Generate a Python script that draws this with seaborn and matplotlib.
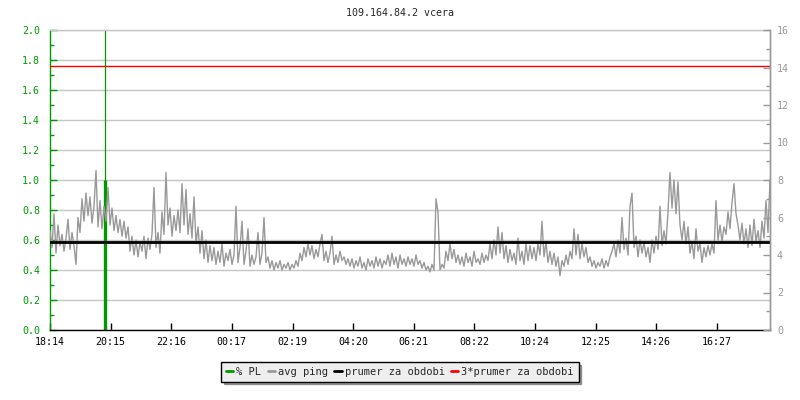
import matplotlib
matplotlib.use("Agg")
import matplotlib.pyplot as plt
import seaborn as sns
from matplotlib.ticker import MultipleLocator, FormatStrFormatter
from matplotlib.lines import Line2D

# ---------------- data ----------------
title = "109.164.84.2 vcera"
tick_labels = ["18:14", "20:15", "22:16", "00:17", "02:19", "04:20",
               "06:21", "08:22", "10:24", "12:25", "14:26", "16:27"]
start_label = "18:14"
sample_step_min = 4          # one sample every 4 minutes over 24 h

avg_ping = [
    5.3, 4.4, 6.2, 4.1, 5.6, 4.5, 5.1, 4.2, 4.9, 5.9,
    4.3, 5.2, 4.5, 3.5, 6.0, 5.2, 7.0, 5.8, 7.3, 6.1,
    7.1, 5.7, 6.6, 8.5, 5.5, 6.9, 5.4, 6.6, 5.8, 7.6,
    5.6, 6.5, 5.3, 6.1, 5.2, 5.9, 5.0, 5.8, 4.9, 5.5,
    4.2, 5.0, 4.0, 4.8, 3.9, 4.7, 4.2, 5.0, 3.8, 4.9,
    4.3, 5.1, 7.6, 4.4, 5.2, 4.1, 6.3, 5.1, 8.4, 5.6,
    6.5, 5.0, 6.1, 5.3, 6.4, 5.2, 7.8, 5.6, 7.5, 5.1,
    6.2, 4.9, 7.1, 4.6, 5.5, 4.1, 5.3, 3.8, 4.8, 3.6,
    4.5, 3.7, 4.4, 3.5, 4.2, 3.6, 4.6, 3.4, 4.1, 3.7,
    4.3, 3.5, 4.0, 6.6, 3.6, 4.4, 5.8, 3.5, 4.2, 5.4,
    3.4, 4.0, 3.5, 3.9, 5.2, 3.5, 4.1, 6.0, 3.6, 3.9,
    3.3, 3.7, 3.2, 3.6, 3.3, 3.7, 3.2, 3.5, 3.3, 3.6,
    3.2, 3.5, 3.3, 3.7, 3.4, 4.1, 3.7, 4.4, 3.9, 4.6,
    4.0, 4.5, 3.8, 4.3, 3.9, 4.6, 5.1, 3.7, 4.2, 3.6,
    4.1, 5.0, 3.5, 4.0, 3.6, 4.2, 3.7, 3.9, 3.5, 3.8,
    3.4, 3.8, 3.3, 3.7, 3.4, 3.9, 3.3, 3.6, 3.2, 3.8,
    3.4, 3.7, 3.3, 3.9, 3.4, 3.8, 3.3, 3.7, 3.5, 4.0,
    3.4, 4.1, 3.5, 3.9, 3.3, 4.0, 3.5, 3.8, 3.4, 3.9,
    3.5, 3.8, 3.4, 4.0, 3.5, 3.7, 3.3, 3.6, 3.2, 3.4,
    3.1, 3.5, 3.2, 7.0, 6.3, 3.2, 3.5, 3.3, 4.2, 3.7,
    4.6, 3.8, 4.3, 3.6, 4.0, 3.5, 3.9, 3.4, 4.1, 3.6,
    3.9, 3.4, 4.2, 3.6, 3.8, 3.5, 4.1, 3.6, 4.0, 3.7,
    4.6, 3.8, 4.8, 4.0, 5.5, 4.1, 5.2, 3.8, 4.5, 3.6,
    4.3, 3.7, 4.1, 3.5, 4.9, 3.7, 4.2, 3.5, 4.6, 3.7,
    4.5, 3.8, 4.4, 3.7, 4.6, 4.0, 5.8, 3.9, 4.7, 3.6,
    4.2, 3.5, 4.1, 3.4, 3.9, 2.9, 3.7, 3.4, 4.0, 3.5,
    4.2, 3.8, 5.4, 4.0, 5.1, 3.8, 4.6, 3.9, 4.4, 3.6,
    3.9, 3.4, 3.7, 3.3, 3.6, 3.4, 3.8, 3.3, 3.7, 3.4,
    3.9, 4.2, 4.6, 3.9, 4.8, 4.1, 6.0, 4.3, 4.9, 4.0,
    6.6, 7.3, 4.4, 5.0, 3.9, 4.8, 4.1, 4.7, 3.9, 4.4,
    3.6, 4.8, 4.1, 5.0, 4.3, 6.6, 4.5, 5.3, 4.6, 6.3,
    8.4, 6.5, 8.0, 6.2, 7.9, 5.6, 4.8, 5.8, 4.6, 5.5,
    4.1, 4.7, 3.8, 5.4, 4.2, 4.6, 3.6, 4.4, 3.9, 4.5,
    4.0, 4.6, 4.1, 6.9, 4.8, 5.6, 4.7, 5.5, 5.1, 6.3,
    5.4, 6.8, 7.8, 6.2, 5.6, 4.8, 5.7, 4.6, 5.4, 4.4,
    5.6, 4.5, 5.9, 4.7, 5.3, 4.4, 5.8, 4.9, 6.9, 5.2,
    8.0,
]
pl_minute = [110]            # packet-loss sample (minutes after start)
pl_value = [1.0]             # % PL
avg_mean = 4.69              # "prumer za obdobi" (ms)
legend_labels = ["% PL", "avg ping", "prumer za obdobi", "3*prumer za obdobi"]

# ---------------- derived positions ----------------
def to_min(lbl):
    h, m = map(int, lbl.split(":"))
    return h * 60 + m

t0 = to_min(start_label)
tick_pos = [(to_min(l) - t0) % 1440 for l in tick_labels]
times = [i * sample_step_min for i in range(len(avg_ping))]

# ---------------- style ----------------
sns.set_style("white")
plt.rcParams["font.family"] = ["DejaVu Sans Mono", "DejaVu Sans"]

GREEN = "#009900"
GRAY = "#999999"
GRID = "#c6c6c6"
FS = 7.2

fig = plt.figure(figsize=(8, 4), dpi=100)
ax = fig.add_axes([50 / 800, 70 / 400, 720 / 800, 300 / 400])
ax2 = ax.twinx()

ax.set_xlim(0, 1440)
ax.set_ylim(0, 2.0)
ax2.set_ylim(0, 16)

# left axis: % PL
ax.axvline(pl_minute[0], color=GREEN, lw=0.9)
ax.vlines(pl_minute, 0, pl_value, color=GREEN, lw=2.4)

# right axis: ping
sns.lineplot(x=times, y=avg_ping, ax=ax2, color=GRAY, lw=1)
ax2.axhline(avg_mean, color="black", lw=2)
ax2.axhline(3 * avg_mean, color="#ff0000", lw=1)
ax2.set_xlabel("")
ax2.set_ylabel("")

# grid
ax.yaxis.set_major_locator(MultipleLocator(0.2))
ax.yaxis.set_minor_locator(MultipleLocator(0.1))
ax.yaxis.set_major_formatter(FormatStrFormatter("%.1f"))
ax.grid(axis="y", which="major", color=GRID, lw=1)
ax.grid(axis="x", visible=False)
ax.set_axisbelow(True)

ax2.yaxis.set_major_locator(MultipleLocator(2))
ax2.yaxis.set_minor_locator(MultipleLocator(1))
ax2.grid(False)

ax.set_xticks(tick_pos)
ax.set_xticklabels(tick_labels)

ax.tick_params(axis="y", which="major", direction="in", length=5, width=1,
               color=GREEN, labelcolor=GREEN, labelsize=FS, pad=7, left=True)
ax.tick_params(axis="y", which="minor", direction="in", length=3, width=1,
               color=GREEN, left=True)
ax.tick_params(axis="x", which="major", direction="in", length=5, width=1,
               color="black", labelcolor="black", labelsize=FS, pad=5, bottom=True)
ax2.tick_params(axis="y", which="major", direction="in", length=5, width=1,
                color=GRAY, labelcolor=GRAY, labelsize=FS, pad=5, right=True)
ax2.tick_params(axis="y", which="minor", direction="in", length=3, width=1,
                color=GRAY, right=True)

for a in (ax, ax2):
    a.spines["left"].set_color(GREEN)
    a.spines["bottom"].set_color("black")
    a.spines["top"].set_color(GRID)
    a.spines["right"].set_color(GRAY)
    for s in a.spines.values():
        s.set_linewidth(1)
for s in ("left", "bottom", "top"):
    ax2.spines[s].set_visible(False)

fig.text(0.5, 1 - 13 / 400, title, ha="center", va="center", fontsize=FS)

handles = [Line2D([], [], color=c, lw=2) for c in (GREEN, GRAY, "black", "#ff0000")]
leg = fig.legend(handles, legend_labels, loc="center", bbox_to_anchor=(0.5, 1 - 372 / 400),
                 ncol=4, frameon=True, fancybox=False, shadow=True,
                 edgecolor="black", facecolor="#eeeeee", framealpha=1,
                 handlelength=0.7, handletextpad=0.3, columnspacing=0.6,
                 borderpad=0.45, fontsize=7.5)
leg.get_frame().set_linewidth(1)

fig.savefig("out.png", dpi=100)
